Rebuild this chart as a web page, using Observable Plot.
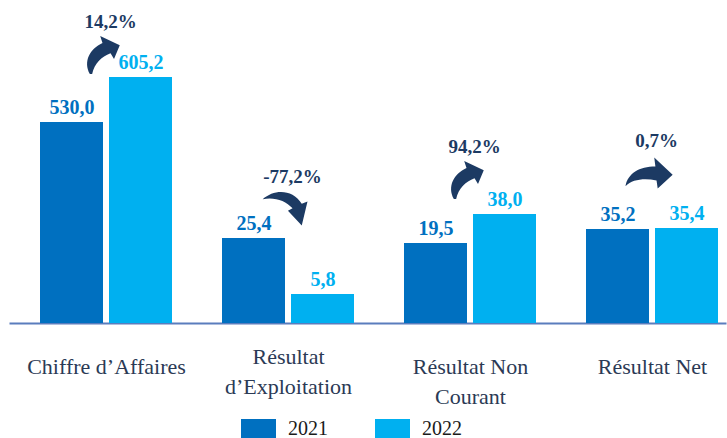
<!DOCTYPE html>
<html><head><meta charset="utf-8">
<script src="https://cdn.jsdelivr.net/npm/d3@7"></script>
<script src="https://cdn.jsdelivr.net/npm/@observablehq/plot@0.6"></script>
<style>
  body { margin: 0; background: #fff; font-family: "Liberation Serif", "Times New Roman", "DejaVu Serif", serif; }
  #chart svg { display: block; }
  #legend { position: relative; width: 727px; height: 26px; }
  #legend .sw { position: absolute; top: 7px; width: 35px; height: 19px; }
  #legend .lt { position: absolute; top: 6px; line-height: 20px; font-size: 20px; color: #1a1a1a; }
</style>
</head><body>
<div id="chart"></div>
<div id="legend"></div>
<script>
// ---- data ----
const categories = ["Chiffre d’Affaires", "Résultat\nd’Exploitation", "Résultat Non\nCourant", "Résultat Net"];
const years = [2021, 2022];
const values2021 = [530.0, 25.4, 19.5, 35.2];
const values2022 = [605.2, 5.8, 38.0, 35.4];
// the bars are not drawn to scale: heights as drawn in the picture
const drawn2021 = [201, 85, 80, 94];
const drawn2022 = [246, 29, 109, 95];
// change annotations and the level (same units) at which they sit
const changeLabels = ["14,2%", "-77,2%", "94,2%", "0,7%"];
const changeLevel = [296, 141, 171, 177];

const colors = ["#0070C0", "#00B0F0"];
const navy = "#1c3a63";
const serif = '"Liberation Serif", "Times New Roman", "DejaVu Serif", serif';

const rows = categories.flatMap((c, i) => [
  {cat: c, year: 2021, value: values2021[i], drawn: drawn2021[i]},
  {cat: c, year: 2022, value: values2022[i], drawn: drawn2022[i]}
]);
const changeRows = categories.map((c, i) => {
  const p = parseFloat(changeLabels[i].replace(",", "."));
  return {cat: c, label: changeLabels[i], level: changeLevel[i], dir: Math.abs(p) < 5 ? "flat" : p > 0 ? "up" : "down"};
});
const fmt = v => v.toFixed(1).replace(".", ",");

// curved block arrow shapes
function makeSymbol(cx, cy, cmds, s = 1.15) {
  return {
    draw(ctx) {
      for (const [c, ...a] of cmds) {
        const p = a.map((v, k) => (v - (k % 2 ? cy : cx)) * s);
        if (c === "M") ctx.moveTo(...p);
        else if (c === "L") ctx.lineTo(...p);
        else if (c === "C") ctx.bezierCurveTo(...p);
      }
      ctx.closePath();
    }
  };
}
const arrowSymbols = {
  up: makeSymbol(22, 21, [["M",11,38],["C",5,27,11,16,22,11],["L",20,5],["L",37,13],["L",32,25],["L",29,20],["C",21,23,15,29,13,38]]),
  down: makeSymbol(23, 20, [["M",4,11],["C",14,2,30,2,38,15],["L",43,13],["L",38,34],["L",26,21],["L",30,19],["C",24,12,14,9,4,11]]),
  flat: makeSymbol(24, 18, [["M",4,29],["C",6,18,16,12,30,12],["L",29,4],["L",45,19],["L",32,31],["L",31,24],["C",20,22,10,23,4,29]])
};

const catLabelRows = categories.map(c => ({cat: c}));

const plot = Plot.plot({
  width: 727,
  height: 412,
  marginLeft: 38,
  marginRight: 7,
  marginTop: 0,
  marginBottom: 89,
  style: {fontFamily: serif, background: "white", overflow: "visible"},
  fx: {domain: categories, paddingInner: 0.2732, paddingOuter: 0, axis: null, label: null},
  x: {domain: years, paddingInner: 0.09, paddingOuter: 0, axis: null, label: null},
  y: {domain: [0, 323], axis: null},
  color: {domain: years, range: colors},
  marks: [
    Plot.frame({facet: "super", anchor: "bottom", stroke: "#5a7dbd", strokeWidth: 2, insetLeft: -30, insetRight: -7}),
    Plot.barY(rows, {fx: "cat", x: "year", y: "drawn", fill: "year"}),
    Plot.text(rows, {fx: "cat", x: "year", y: "drawn", text: d => fmt(d.value), fill: "year",
      lineAnchor: "bottom", dy: -9, fontSize: 20, fontWeight: "bold", fontFamily: serif}),
    Plot.text(changeRows, {fx: "cat", y: "level", text: "label", fill: navy, lineAnchor: "bottom",
      dx: 4, fontSize: 19, fontWeight: "bold", fontFamily: serif}),
    ...["up", "down", "flat"].map(dir =>
      Plot.dot(changeRows.filter(d => d.dir === dir), {fx: "cat", y: "level", symbol: arrowSymbols[dir],
        r: 10, fill: navy, stroke: "none", dx: -4, dy: 27})),
    Plot.text(catLabelRows.filter(d => !d.cat.includes("Exploitation")), {fx: "cat", text: "cat", frameAnchor: "bottom",
      lineAnchor: "top", dy: 29, fontSize: 22, lineHeight: 1.36, fill: "#2b3a55", fontFamily: serif}),
    Plot.text(catLabelRows.filter(d => d.cat.includes("Exploitation")), {fx: "cat", text: "cat", frameAnchor: "bottom",
      lineAnchor: "top", dy: 19, fontSize: 22, lineHeight: 1.36, fill: "#2b3a55", fontFamily: serif})
  ]
});
document.getElementById("chart").appendChild(plot);

// legend
const legend = document.getElementById("legend");
const legendLeft = [241, 375];
years.forEach((y, i) => {
  const sw = document.createElement("span");
  sw.className = "sw"; sw.style.left = legendLeft[i] + "px"; sw.style.background = colors[i];
  const lt = document.createElement("span");
  lt.className = "lt"; lt.style.left = (legendLeft[i] + 47) + "px"; lt.textContent = String(y);
  legend.append(sw, lt);
});
</script>
</body></html>
